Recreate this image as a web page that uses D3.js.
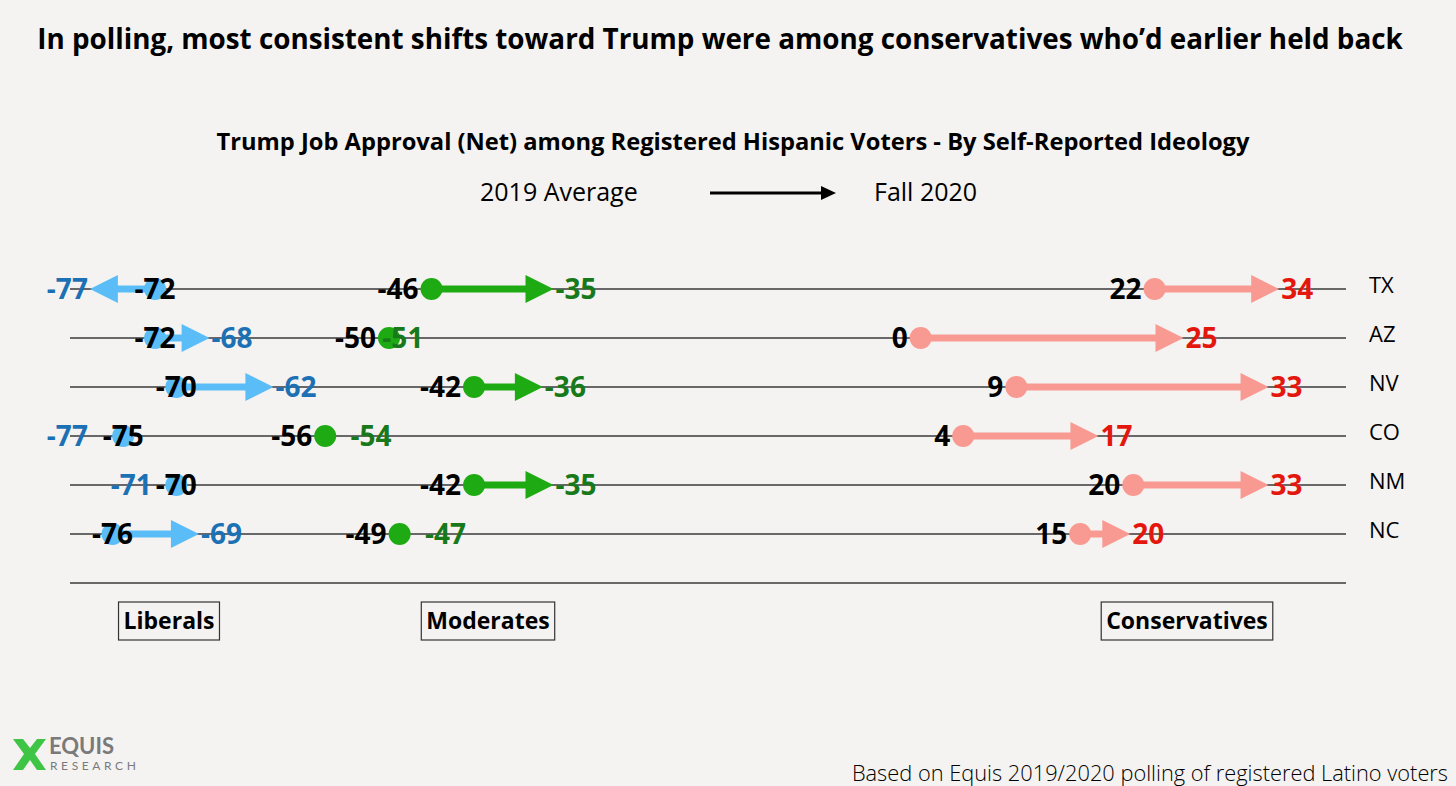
<!DOCTYPE html>
<html>
<head>
<meta charset="utf-8">
<script src="https://cdn.jsdelivr.net/npm/d3@7"></script>
<style>
  html, body { margin: 0; padding: 0; background: #f5f3f1; }
  svg { display: block; font-family: "Open Sans", Lato, sans-serif; }
</style>
</head>
<body>
<svg id="chart" width="1456" height="786"></svg>
<script>
// states, top to bottom
var states = ["TX", "AZ", "NV", "CO", "NM", "NC"];
var groups = ["Liberals", "Moderates", "Conservatives"];

// net approval, 2019 average -> fall 2020
var libStart = [-72, -72, -70, -75, -70, -76];
var libEnd   = [-77, -68, -62, -77, -71, -69];
var modStart = [-46, -50, -42, -56, -42, -49];
var modEnd   = [-35, -51, -36, -54, -35, -47];
var conStart = [22, 0, 9, 4, 20, 15];
var conEnd   = [34, 25, 33, 17, 33, 20];

var starts = [libStart, modStart, conStart],
    ends = [libEnd, modEnd, conEnd];

var markColor  = ["#5bbdf7", "#1eaa12", "#f89a91"],
    labelColor = ["#1c71b5", "#17791a", "#e3170d"],
    tipShift   = [12, 5, -3],          // arrowhead overshoot, per group
    groupLabelX = [169, 488, 1187];

var svg = d3.select("#chart");

var x = d3.scaleLinear().domain([-80, 40]).range([70, 1346]),
    y = d3.scaleLinear().domain([0, states.length]).range([289, 583]);

var headLen = 28, headHalf = 14, shaft = 7, r = 11;

// title + subtitle
svg.append("text")
    .attr("x", 720).attr("y", 49)
    .attr("text-anchor", "middle")
    .style("font-size", "27.8px").style("font-weight", 700)
    .text("In polling, most consistent shifts toward Trump were among conservatives who\u2019d earlier held back");

svg.append("text")
    .attr("x", 733).attr("y", 150)
    .attr("text-anchor", "middle")
    .style("font-size", "23.7px").style("font-weight", 700)
    .text("Trump Job Approval (Net) among Registered Hispanic Voters - By Self-Reported Ideology");

// legend
svg.append("text").attr("x", 480).attr("y", 201)
    .style("font-size", "25px").text("2019 Average");
svg.append("text").attr("x", 874).attr("y", 201)
    .style("font-size", "25px").text("Fall 2020");
svg.append("line")
    .attr("x1", 710).attr("x2", 823).attr("y1", 193).attr("y2", 193)
    .attr("stroke", "#000").attr("stroke-width", 3);
svg.append("path")
    .attr("d", "M821,186L836,193L821,200Z").attr("fill", "#000");

// row rules
var g = svg.append("g");
g.selectAll(".rule")
    .data(d3.range(states.length + 1))
  .enter().append("line")
    .attr("class", "rule")
    .attr("x1", x.range()[0]).attr("x2", x.range()[1])
    .attr("y1", function(i) { return y(i); })
    .attr("y2", function(i) { return y(i); })
    .attr("stroke", "#3a3a3a").attr("stroke-width", 1.3);

// state names
g.selectAll(".state")
    .data(states)
  .enter().append("text")
    .attr("class", "state")
    .attr("x", 1369)
    .attr("y", function(d, i) { return y(i) - 4; })
    .attr("dy", "0.36em")
    .style("font-size", "22px")
    .text(function(d) { return d; });

// flatten to one record per state and group
var rows = [];
groups.forEach(function(gr, k) {
    states.forEach(function(s, i) {
        rows.push({ k: k, i: i, a: starts[k][i], b: ends[k][i] });
    });
});

function hasArrow(d) { return Math.abs(d.b - d.a) > 2; }
function tipX(d) {
    var dir = d.b > d.a ? 1 : -1;
    return x(d.b) + dir * tipShift[d.k];
}

// arrows
var arrows = rows.filter(hasArrow);
g.selectAll(".shaft")
    .data(arrows)
  .enter().append("line")
    .attr("class", "shaft")
    .attr("x1", function(d) { return x(d.a); })
    .attr("x2", function(d) { return tipX(d) - (d.b > d.a ? 1 : -1) * (headLen - 2); })
    .attr("y1", function(d) { return y(d.i); })
    .attr("y2", function(d) { return y(d.i); })
    .attr("stroke", function(d) { return markColor[d.k]; })
    .attr("stroke-width", shaft);

g.selectAll(".head")
    .data(arrows)
  .enter().append("path")
    .attr("class", "head")
    .attr("d", function(d) {
        var t = tipX(d), dir = d.b > d.a ? 1 : -1, yy = y(d.i), base = t - dir * headLen;
        return "M" + t + "," + yy + "L" + base + "," + (yy - headHalf) + "L" + base + "," + (yy + headHalf) + "Z";
    })
    .attr("fill", function(d) { return markColor[d.k]; });

// 2019 dots
g.selectAll(".dot")
    .data(rows)
  .enter().append("circle")
    .attr("class", "dot")
    .attr("cx", function(d) { return x(d.a); })
    .attr("cy", function(d) { return y(d.i); })
    .attr("r", r)
    .attr("fill", function(d) { return markColor[d.k]; });

// 2019 labels (liberals sit on the dot, others to its left)
g.selectAll(".startLabel")
    .data(rows)
  .enter().append("text")
    .attr("class", "startLabel")
    .attr("x", function(d) { return d.k === 0 ? x(d.a) : x(d.a) - 13; })
    .attr("y", function(d) { return y(d.i); })
    .attr("dy", "0.36em")
    .attr("text-anchor", function(d) { return d.k === 0 ? "middle" : "end"; })
    .style("font-size", "28px").style("font-weight", 700)
    .text(function(d) { return d.a; });

// fall 2020 labels
g.selectAll(".endLabel")
    .data(rows)
  .enter().append("text")
    .attr("class", "endLabel")
    .attr("x", function(d) {
        var left = d.k === 0 && d.b < d.a;
        if (left) return x(d.b) - tipShift[d.k] - 2;
        return hasArrow(d) ? tipX(d) + 2 : x(d.b) + 4;
    })
    .attr("y", function(d) { return y(d.i); })
    .attr("dy", "0.36em")
    .attr("text-anchor", function(d) { return d.k === 0 && d.b < d.a ? "end" : "start"; })
    .attr("fill", function(d) { return labelColor[d.k]; })
    .style("font-size", "28px").style("font-weight", 700)
    .text(function(d) { return d.b; });

// group labels in boxes
var gl = svg.selectAll(".group")
    .data(groups)
  .enter().append("g")
    .attr("class", "group")
    .attr("transform", function(d, k) { return "translate(" + groupLabelX[k] + ",621)"; });
gl.append("text")
    .attr("text-anchor", "middle").attr("dy", "0.36em")
    .style("font-size", "23px").style("font-weight", 700)
    .text(function(d) { return d; });
gl.each(function() {
    var t = d3.select(this).select("text").node().getBBox();
    d3.select(this).insert("rect", "text")
        .attr("x", t.x - 5).attr("y", -19)
        .attr("width", t.width + 10).attr("height", 38)
        .attr("fill", "none").attr("stroke", "#333").attr("stroke-width", 1.2);
});

// logo
var logo = svg.append("g").attr("transform", "translate(13,739)");
logo.append("path")
    .attr("d", "M0,0L10,0L17,9L24,0L33,0L22,15L33,31L24,31L17,21L10,31L0,31L11,15Z")
    .attr("fill", "#3fc546");
logo.append("text").attr("x", 36).attr("y", 15)
    .attr("fill", "#7a7a7a")
    .style("font-family", "Lato, sans-serif")
    .style("font-size", "22px").style("font-weight", 700)
    .text("EQUIS");
logo.append("text").attr("x", 37).attr("y", 31)
    .attr("fill", "#7a7a7a")
    .style("font-family", "Lato, sans-serif")
    .style("font-size", "12px").style("letter-spacing", "3.6px")
    .text("RESEARCH");

// source
svg.append("text")
    .attr("x", 1448).attr("y", 781)
    .attr("text-anchor", "end")
    .style("font-size", "21.8px").style("font-weight", 300)
    .text("Based on Equis 2019/2020 polling of registered Latino voters");
</script>
</body>
</html>
